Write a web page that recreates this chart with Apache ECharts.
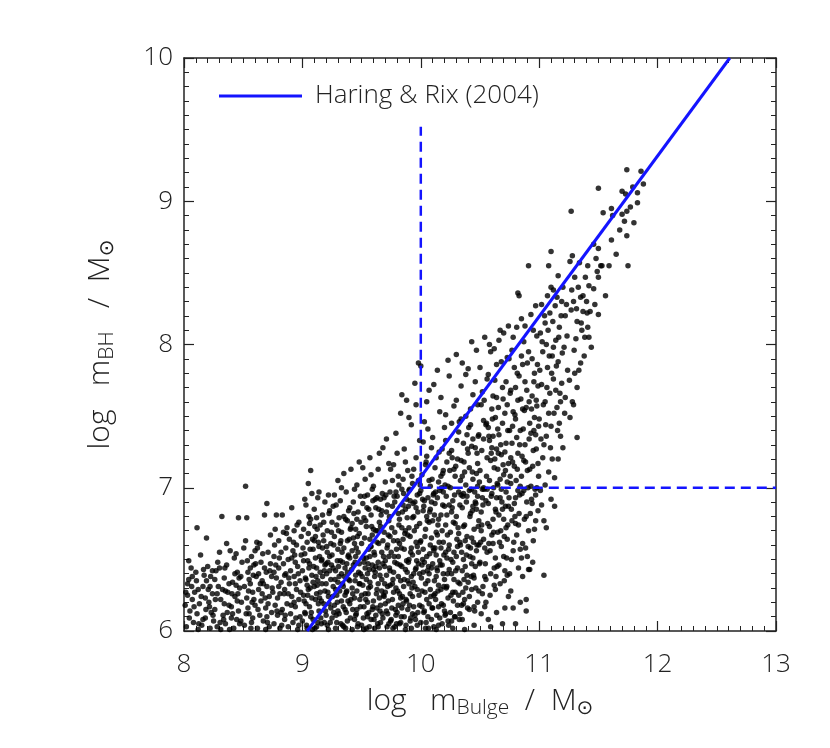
<!DOCTYPE html>
<html>
<head>
<meta charset="utf-8">
<script src="https://cdn.jsdelivr.net/npm/echarts@6/dist/echarts.min.js"></script>
</head>
<body style="margin:0;background:#fff">
<div id="main" style="width:830px;height:748px;"></div>
<script type="text/javascript">
// log m_Bulge / log m_BH pairs, grouped by x strip
var ptsLeft = [
[8.02,6.03],[8.05,6.14],[8.03,6.33],[8.04,6.36],[8.08,6.06],[8.11,6.12],[8.07,6.22],[8.12,6.29],[8.15,6.04],[8.13,6.19],[8.10,6.41],[8.11,6.72],[8.16,6.31],[8.18,6.09],[8.19,6.65],[8.06,6.44],[8.21,6.20],[8.17,6.39],[8.22,6.02],[8.24,6.26],[8.20,6.45],[8.14,6.53],[8.23,6.13],[8.09,6.27],[8.01,6.18],[8.04,6.49],[8.16,6.08],[8.19,6.35],[8.24,6.42],[8.12,6.01],[8.07,6.38],[8.22,6.31],[8.03,6.25],[8.18,6.23],[8.25,6.07],
[8.26,6.15],[8.27,6.42],[8.28,6.03],[8.29,6.31],[8.30,6.55],[8.31,6.22],[8.32,6.80],[8.33,6.11],[8.34,6.37],[8.35,6.05],[8.36,6.46],[8.37,6.27],[8.38,6.18],[8.39,6.56],[8.40,6.09],[8.41,6.34],[8.42,6.02],[8.43,6.24],[8.44,6.54],[8.45,6.41],[8.46,6.14],[8.46,6.79],[8.47,6.30],[8.48,6.07],[8.49,6.48],[8.26,6.36],[8.28,6.26],[8.31,6.01],[8.34,6.19],[8.36,6.61],[8.38,6.33],[8.41,6.12],[8.43,6.40],[8.45,6.21],[8.47,6.05],[8.48,6.38],[8.30,6.44],[8.35,6.28],[8.40,6.17],[8.44,6.32],
[8.51,6.04],[8.52,6.63],[8.52,7.01],[8.53,6.23],[8.53,6.79],[8.54,6.41],[8.55,6.12],[8.56,6.33],[8.57,6.52],[8.57,6.06],[8.58,6.27],[8.59,6.46],[8.60,6.18],[8.61,6.38],[8.62,6.02],[8.62,6.58],[8.63,6.29],[8.64,6.11],[8.65,6.48],[8.65,6.21],[8.66,6.35],[8.67,6.07],[8.68,6.81],[8.68,6.44],[8.69,6.16],[8.70,6.89],[8.70,6.31],[8.71,6.55],[8.72,6.03],[8.72,6.24],[8.73,6.67],[8.74,6.38],[8.74,6.13],[8.51,6.31],[8.54,6.16],[8.56,6.44],[8.58,6.09],[8.60,6.56],[8.63,6.40],[8.66,6.26],[8.69,6.01],[8.71,6.19],[8.73,6.47],[8.55,6.36],[8.59,6.22],[8.64,6.61],[8.67,6.33],[8.70,6.10],
[8.75,6.27],[8.76,6.05],[8.76,6.52],[8.77,6.71],[8.77,6.18],[8.78,6.37],[8.78,6.81],[8.79,6.11],[8.80,6.44],[8.80,6.63],[8.81,6.26],[8.81,6.02],[8.82,6.55],[8.82,6.34],[8.83,6.81],[8.83,6.15],[8.84,6.47],[8.84,6.69],[8.85,6.08],[8.85,6.29],[8.86,6.58],[8.86,6.40],[8.87,6.72],[8.87,6.19],[8.88,6.03],[8.88,6.50],[8.89,6.33],[8.89,6.64],[8.90,6.12],[8.90,6.42],[8.91,6.86],[8.91,6.24],[8.92,6.56],[8.92,6.06],[8.93,6.38],[8.93,6.70],[8.94,6.17],[8.94,6.48],[8.95,6.29],[8.95,6.60],[8.96,6.01],[8.96,6.45],[8.97,6.22],[8.97,6.76],[8.98,6.35],[8.98,6.10],[8.99,6.53],[8.99,6.66],[8.76,6.41],[8.79,6.23],[8.82,6.13],[8.85,6.39],[8.88,6.26],[8.91,6.51],[8.94,6.33],[8.97,6.04],[8.80,6.31],[8.93,6.20]
];
var ptsMid = [
[9.00,6.07],[9.00,6.42],[9.01,6.71],[9.01,6.25],[9.02,6.54],[9.02,6.13],[9.03,6.36],[9.03,6.88],[9.04,6.02],[9.04,6.62],[9.05,6.29],[9.05,7.03],[9.06,6.47],[9.06,6.17],[9.07,6.78],[9.07,7.12],[9.08,6.39],[9.08,6.96],[9.09,6.08],[9.09,6.57],[9.10,6.31],[9.10,6.85],[9.11,6.22],[9.11,6.66],[9.12,6.44],[9.12,6.03],[9.13,6.93],[9.13,6.35],[9.14,6.14],[9.14,6.59],[9.15,6.74],[9.15,6.27],[9.16,6.49],[9.16,6.05],[9.17,6.81],[9.17,6.38],[9.18,6.19],[9.18,6.63],[9.19,6.46],[9.19,6.90],[9.20,6.11],[9.20,6.33],[9.21,6.70],[9.21,6.55],[9.22,6.24],[9.22,6.01],[9.23,6.42],[9.23,6.84],[9.24,6.16],[9.24,6.61],[9.01,6.49],[9.03,6.19],[9.05,6.68],[9.07,6.10],[9.09,6.34],[9.11,6.51],[9.13,6.06],[9.15,6.41],[9.17,6.58],[9.19,6.28],[9.21,6.04],[9.23,6.52],[9.02,6.92],[9.06,6.75],[9.10,6.63],[9.14,6.97],[9.18,6.76],[9.22,6.95],[9.04,6.32],[9.08,6.23],[9.12,6.26],[9.16,6.21],[9.20,6.47],[9.24,6.36],[9.12,6.79],
[9.25,6.09],[9.25,6.53],[9.26,6.31],[9.26,6.87],[9.27,6.18],[9.27,6.66],[9.28,6.42],[9.28,6.02],[9.29,6.74],[9.29,6.25],[9.30,6.57],[9.30,7.05],[9.31,6.12],[9.31,6.38],[9.32,6.91],[9.32,6.49],[9.33,6.21],[9.33,6.69],[9.34,6.04],[9.34,6.33],[9.35,6.80],[9.35,6.58],[9.36,6.15],[9.36,6.44],[9.37,6.97],[9.37,6.27],[9.38,6.63],[9.38,6.07],[9.39,6.36],[9.39,6.84],[9.40,6.51],[9.40,6.19],[9.41,7.13],[9.41,6.72],[9.42,6.30],[9.42,6.01],[9.43,6.46],[9.43,6.90],[9.44,6.23],[9.44,6.61],[9.45,6.11],[9.45,6.39],[9.46,6.78],[9.46,7.02],[9.47,6.55],[9.47,6.05],[9.48,6.33],[9.48,6.68],[9.49,6.17],[9.49,6.94],[9.26,6.44],[9.28,6.29],[9.30,6.14],[9.32,6.61],[9.34,6.48],[9.36,6.25],[9.38,6.77],[9.40,6.35],[9.42,6.56],[9.44,6.08],[9.46,6.28],[9.48,6.47],[9.27,6.95],[9.31,6.79],[9.35,7.10],[9.39,6.53],[9.43,6.65],[9.47,6.83],[9.29,6.06],[9.33,6.40],[9.37,6.13],[9.41,6.22],[9.45,6.52],[9.49,6.40],[9.25,6.76],[9.30,6.34],[9.35,6.03],[9.40,6.86],[9.45,6.71],[9.48,7.18],[9.33,7.00],[9.38,6.41],[9.42,6.75],[9.46,6.15],[9.44,6.99],
[9.50,6.04],[9.50,6.61],[9.51,6.32],[9.51,6.89],[9.52,6.17],[9.52,6.48],[9.53,7.06],[9.53,6.26],[9.54,6.73],[9.54,6.02],[9.55,6.40],[9.55,6.95],[9.56,6.13],[9.56,6.57],[9.57,7.21],[9.57,6.34],[9.58,6.81],[9.58,6.08],[9.59,6.46],[9.59,6.67],[9.60,6.21],[9.60,7.01],[9.61,6.53],[9.61,6.38],[9.62,6.11],[9.62,6.86],[9.63,6.29],[9.63,6.62],[9.64,7.13],[9.64,6.03],[9.65,6.44],[9.65,6.76],[9.66,6.18],[9.66,6.92],[9.67,6.36],[9.67,6.55],[9.68,7.28],[9.68,6.09],[9.69,6.69],[9.69,6.24],[9.70,6.49],[9.70,7.04],[9.71,6.14],[9.71,6.83],[9.72,6.31],[9.72,6.60],[9.73,7.17],[9.73,6.05],[9.74,6.42],[9.74,6.97],[9.50,6.25],[9.52,6.79],[9.54,6.51],[9.56,6.30],[9.58,6.59],[9.60,6.43],[9.62,6.70],[9.64,6.33],[9.66,6.06],[9.68,6.47],[9.70,6.27],[9.72,6.12],[9.74,6.66],[9.51,7.14],[9.55,6.20],[9.59,6.99],[9.63,6.16],[9.67,6.84],[9.71,6.39],[9.53,6.44],[9.57,6.64],[9.61,6.02],[9.65,6.23],[9.69,6.93],[9.73,6.52],[9.52,6.01],[9.56,6.85],[9.60,6.71],[9.64,6.48],[9.68,6.63],[9.72,6.88],[9.54,6.36],[9.58,7.09],[9.62,6.45],[9.66,6.73],[9.70,6.19],[9.74,6.32],[9.55,6.10],[9.63,6.93],[9.71,7.34],[9.59,6.15],[9.67,6.28],[9.73,6.77],[9.57,6.52],[9.65,7.24],
[9.75,6.08],[9.75,6.55],[9.76,6.87],[9.76,6.22],[9.77,7.16],[9.77,6.41],[9.78,6.03],[9.78,6.69],[9.79,7.38],[9.79,6.30],[9.80,6.94],[9.80,6.13],[9.81,6.52],[9.81,7.08],[9.82,6.26],[9.82,6.78],[9.83,7.52],[9.83,6.06],[9.84,6.45],[9.84,6.99],[9.85,6.19],[9.85,6.64],[9.86,7.27],[9.86,6.36],[9.87,6.01],[9.87,6.85],[9.88,7.61],[9.88,6.49],[9.89,6.15],[9.89,7.12],[9.90,6.72],[9.90,6.33],[9.91,6.91],[9.91,6.07],[9.92,7.44],[9.92,6.58],[9.93,6.24],[9.93,7.03],[9.94,6.80],[9.94,6.40],[9.95,7.73],[9.95,6.11],[9.96,6.62],[9.96,7.21],[9.97,6.29],[9.97,6.95],[9.98,7.87],[9.98,6.47],[9.99,6.18],[9.99,7.33],[9.76,6.33],[9.78,6.90],[9.80,6.47],[9.82,6.05],[9.84,6.72],[9.86,6.57],[9.88,6.21],[9.90,6.98],[9.92,6.38],[9.94,6.17],[9.96,6.86],[9.98,6.55],[9.77,6.63],[9.79,6.11],[9.81,6.82],[9.83,6.35],[9.85,7.06],[9.87,6.43],[9.89,6.67],[9.91,6.26],[9.93,6.53],[9.95,6.90],[9.97,6.04],[9.99,6.75],[9.76,7.05],[9.80,7.24],[9.84,6.16],[9.88,6.92],[9.92,6.02],[9.96,6.44],[9.78,6.48],[9.82,6.61],[9.86,6.10],[9.90,6.50],[9.94,7.13],[9.98,7.05],[9.77,6.27],[9.81,6.38],[9.85,6.88],[9.89,6.35],[9.93,6.79],[9.97,6.59],[9.79,6.97],[9.83,6.23],[9.87,7.18],[9.91,6.66],[9.95,6.31],[9.99,6.40],[9.84,7.65],[9.90,7.49],[9.96,7.58],[9.81,6.18],[9.93,6.12],[9.87,6.70],[9.99,6.96]
];
var ptsCore = [
[10.00,6.06],[10.00,6.63],[10.01,7.09],[10.01,6.28],[10.02,6.84],[10.02,6.41],[10.03,7.46],[10.03,6.14],[10.04,6.71],[10.04,6.02],[10.05,7.22],[10.05,6.52],[10.06,6.35],[10.06,6.93],[10.07,7.68],[10.07,6.19],[10.08,6.60],[10.08,7.01],[10.09,6.44],[10.09,6.08],[10.10,7.35],[10.10,6.77],[10.11,6.25],[10.11,6.56],[10.12,7.14],[10.12,6.89],[10.13,6.01],[10.13,6.38],[10.14,7.82],[10.14,6.67],[10.15,6.17],[10.15,7.04],[10.16,6.49],[10.16,7.53],[10.17,6.81],[10.17,6.29],[10.18,7.27],[10.18,6.05],[10.19,6.62],[10.19,6.97],[10.20,6.36],[10.20,7.42],[10.21,6.12],[10.21,6.74],[10.22,7.18],[10.22,6.51],[10.23,7.89],[10.23,6.23],[10.24,6.88],[10.24,6.43],[10.01,6.46],[10.03,6.91],[10.05,6.22],[10.07,6.76],[10.09,7.28],[10.11,6.03],[10.13,6.69],[10.15,6.32],[10.17,7.08],[10.19,6.18],[10.21,6.55],[10.23,7.01],[10.02,7.32],[10.04,6.33],[10.06,6.10],[10.08,6.85],[10.10,6.47],[10.12,6.26],[10.14,6.93],[10.16,6.09],[10.18,6.70],[10.20,6.87],[10.22,6.31],[10.24,7.24],[10.00,6.98],[10.04,7.16],[10.08,6.29],[10.12,6.58],[10.16,6.98],[10.20,6.14],[10.24,6.60],[10.02,6.57],[10.06,7.41],[10.10,6.16],[10.14,6.42],[10.18,6.46],[10.22,6.81],[10.01,6.17],[10.05,6.80],[10.09,6.65],[10.13,7.21],[10.17,6.58],[10.21,7.33],[10.03,6.48],[10.07,6.40],[10.11,6.96],[10.15,6.78],[10.19,7.12],[10.23,6.07],[10.05,7.60],[10.11,7.72],[10.17,7.63],[10.21,7.51],[10.09,6.90],[10.15,6.04],[10.19,6.40],[10.07,7.05],[10.13,6.53],[10.24,7.78],[10.00,7.85],
[10.25,6.13],[10.25,6.69],[10.26,7.26],[10.26,6.40],[10.27,6.91],[10.27,6.02],[10.28,7.57],[10.28,6.55],[10.29,6.27],[10.29,7.08],[10.30,6.80],[10.30,7.93],[10.31,6.44],[10.31,6.18],[10.32,7.39],[10.32,6.97],[10.33,6.62],[10.33,6.33],[10.34,7.19],[10.34,7.71],[10.35,6.08],[10.35,6.86],[10.36,6.50],[10.36,7.31],[10.37,6.74],[10.37,6.22],[10.38,7.02],[10.38,7.50],[10.39,6.39],[10.39,6.94],[10.40,7.83],[10.40,6.59],[10.41,6.15],[10.41,7.14],[10.42,6.82],[10.42,7.44],[10.43,6.47],[10.43,6.29],[10.44,7.06],[10.44,7.65],[10.45,6.71],[10.45,6.04],[10.46,7.28],[10.46,6.90],[10.47,6.56],[10.47,7.96],[10.48,6.20],[10.48,7.17],[10.49,6.77],[10.49,7.37],[10.25,7.00],[10.27,6.48],[10.29,6.75],[10.31,7.20],[10.33,6.88],[10.35,6.42],[10.37,7.11],[10.39,6.66],[10.41,6.98],[10.43,7.29],[10.45,6.37],[10.47,6.85],[10.49,6.60],[10.26,6.83],[10.28,7.13],[10.30,6.52],[10.32,6.25],[10.34,6.95],[10.36,6.73],[10.38,6.30],[10.40,7.24],[10.42,6.58],[10.44,6.87],[10.46,6.45],[10.48,7.01],[10.26,7.45],[10.30,7.61],[10.34,7.48],[10.38,7.79],[10.42,7.55],[10.46,7.74],[10.28,6.36],[10.32,6.68],[10.36,6.96],[10.40,6.34],[10.44,6.51],[10.48,6.94],[10.27,6.27],[10.31,6.59],[10.35,7.08],[10.39,7.37],[10.43,6.65],[10.47,7.10],[10.29,6.10],[10.33,6.12],[10.37,6.01],[10.41,6.24],[10.45,6.17],[10.49,6.28],[10.35,7.87],[10.43,8.02],[10.26,6.07],[10.44,7.34],[10.36,6.19],[10.48,7.58],
[10.50,6.48],[10.50,7.12],[10.51,6.83],[10.51,7.58],[10.52,6.26],[10.52,6.99],[10.53,7.34],[10.53,6.64],[10.54,8.05],[10.54,6.17],[10.55,6.91],[10.55,7.44],[10.56,6.55],[10.56,7.21],[10.57,6.08],[10.57,7.79],[10.58,6.73],[10.58,7.05],[10.59,6.40],[10.59,7.95],[10.60,6.96],[10.60,7.28],[10.61,6.61],[10.61,7.64],[10.62,6.32],[10.62,7.14],[10.63,6.85],[10.63,7.49],[10.64,6.13],[10.64,7.86],[10.65,6.69],[10.65,7.02],[10.66,7.37],[10.66,6.46],[10.67,8.10],[10.67,6.93],[10.68,7.23],[10.68,6.59],[10.69,7.70],[10.69,6.05],[10.70,6.78],[10.70,7.09],[10.71,6.42],[10.71,7.52],[10.72,6.97],[10.72,7.31],[10.73,6.64],[10.73,7.91],[10.74,6.24],[10.74,7.17],[10.51,6.70],[10.53,7.00],[10.55,6.36],[10.57,6.89],[10.59,7.19],[10.61,6.78],[10.63,6.51],[10.65,7.41],[10.67,7.06],[10.69,6.85],[10.71,7.25],[10.73,7.04],[10.50,7.84],[10.52,7.67],[10.56,7.76],[10.60,7.55],[10.64,7.63],[10.68,7.88],[10.72,7.74],[10.74,8.13],[10.52,6.93],[10.54,6.58],[10.58,7.33],[10.62,6.44],[10.66,6.81],[10.70,6.52],[10.74,6.87],[10.51,6.12],[10.55,6.20],[10.59,6.03],[10.63,6.29],[10.67,6.33],[10.71,6.16],[10.73,6.39],[10.53,7.47],[10.57,7.42],[10.61,7.36],[10.65,7.13],[10.69,7.45],[10.73,7.58],[10.56,6.99],[10.60,6.67],[10.64,6.93],[10.68,6.99],[10.72,6.72],[10.58,8.00],[10.62,7.97],[10.66,8.03],[10.70,8.08],[10.54,6.38],[10.64,7.27],
[10.75,6.40],[10.76,7.03],[10.76,7.68],[10.77,6.77],[10.77,7.31],[10.78,8.05],[10.78,6.56],[10.79,7.15],[10.79,7.84],[10.80,6.93],[10.80,7.48],[10.81,6.67],[10.81,8.12],[10.82,7.24],[10.82,7.61],[10.83,6.82],[10.83,8.34],[10.84,7.40],[10.84,6.57],[10.85,7.92],[10.85,7.08],[10.86,6.61],[10.86,7.55],[10.87,6.98],[10.87,8.02],[10.88,7.30],[10.88,7.74],[10.89,6.80],[10.89,6.22],[10.90,7.12],[10.90,7.87],[10.91,6.70],[10.91,8.55],[10.92,7.45],[10.92,6.43],[10.93,8.21],[10.93,7.01],[10.94,7.64],[10.94,6.89],[10.95,7.26],[10.95,8.10],[10.96,6.71],[10.96,7.80],[10.97,7.37],[10.97,6.95],[10.98,8.06],[10.98,7.57],[10.99,7.17],[10.99,6.84],[10.76,6.28],[10.78,6.16],[10.80,6.05],[10.85,6.51],[10.89,6.14],[10.75,7.40],[10.77,7.96],[10.79,6.89],[10.81,7.35],[10.83,7.78],[10.85,8.18],[10.87,7.19],[10.89,7.56],[10.91,7.95],[10.93,7.38],[10.95,6.63],[10.97,8.27],[10.99,7.71],[10.76,7.21],[10.80,7.70],[10.84,7.01],[10.88,8.13],[10.92,7.13],[10.96,7.49],[10.78,7.53],[10.82,6.98],[10.86,7.86],[10.90,6.52],[10.94,7.90],[10.98,7.00],[10.82,8.36],[10.80,6.75],[10.86,6.38],[10.91,6.43],[10.84,6.20],[10.97,6.77]
];
var ptsRidge = [
[11.00,7.48],[11.01,8.08],[11.01,6.98],[11.02,7.72],[11.02,8.28],[11.03,7.21],[11.03,7.95],[11.04,6.77],[11.04,6.39],[11.05,7.60],[11.05,8.15],[11.06,6.72],[11.06,7.36],[11.07,7.84],[11.07,8.34],[11.08,7.11],[11.08,8.55],[11.09,7.66],[11.09,8.22],[11.10,7.43],[11.10,8.40],[11.11,7.92],[11.11,7.20],[11.12,7.76],[11.12,8.38],[11.13,7.07],[11.13,6.87],[11.14,8.03],[11.15,7.56],[11.15,8.33],[11.16,7.20],[11.16,7.88],[11.17,8.12],[11.18,7.36],[11.18,7.60],[11.19,7.73],[11.20,8.40],[11.20,7.28],[11.21,7.98],[11.22,8.20],[11.23,8.28],[11.24,7.82],[11.04,7.30],[11.06,8.00],[11.08,7.52],[11.10,6.92],[11.12,7.98],[11.14,7.68],[11.17,7.45],[11.19,8.30],[11.22,7.63],[11.10,8.65],[11.02,6.88],[11.05,7.02],[11.16,8.48],
[11.26,7.49],[11.26,8.58],[11.27,8.93],[11.27,8.24],[11.28,7.60],[11.28,8.62],[11.29,8.30],[11.29,7.58],[11.30,7.80],[11.31,8.04],[11.32,8.16],[11.32,7.35],[11.32,7.70],[11.33,8.40],[11.34,8.57],[11.35,8.33],[11.36,8.10],[11.37,8.23],[11.37,8.34],[11.38,7.92],[11.40,8.30],[11.41,8.55],[11.41,8.12],[11.42,8.41],[11.42,8.05],[11.43,8.23],[11.44,7.98],[11.46,8.39],[11.46,8.70],[11.47,8.28],[11.48,8.60],[11.49,8.51],[11.30,8.47],[11.35,7.87],[11.39,8.47],
[11.50,9.09],[11.50,8.67],[11.50,8.47],[11.50,8.21],[11.52,8.55],[11.53,8.55],[11.54,8.92],[11.56,8.34],[11.59,8.55],[11.61,8.95],[11.61,8.73],[11.62,8.90],[11.65,8.63],[11.68,8.80],[11.70,9.07],[11.70,8.91],[11.72,8.86],[11.74,8.76],[11.73,9.05],
[11.74,9.22],[11.75,8.55],[11.77,8.96],[11.79,9.10],[11.83,9.06],[11.83,8.99],[11.86,9.21],[11.80,8.85],[11.88,9.12],[11.74,8.93]
];
// extra points in the crowded part of the cloud
var ptsFill = [
[8.015,6.27],[8.045,6.09],[8.065,6.31],[8.085,6.17],[8.105,6.35],[8.125,6.05],[8.145,6.24],[8.165,6.43],[8.185,6.15],[8.205,6.29],[8.225,6.38],[8.245,6.11],[8.265,6.22],[8.285,6.48],[8.305,6.06],[8.325,6.29],[8.345,6.44],[8.365,6.13],[8.385,6.01],[8.405,6.26],[8.425,6.51],[8.445,6.08],[8.465,6.37],[8.485,6.20],[8.505,6.58],[8.525,6.12],[8.545,6.28],[8.565,6.02],[8.585,6.39],[8.605,6.47],[8.625,6.15],[8.645,6.33],[8.665,6.54],[8.685,6.23],[8.705,6.06],[8.725,6.42],[8.745,6.30],[8.765,6.60],[8.785,6.14],[8.805,6.51],[8.825,6.04],[8.845,6.26],[8.865,6.68],[8.885,6.37],[8.905,6.18],[8.925,6.62],[8.945,6.09],[8.965,6.40],[8.985,6.27],[8.535,6.49],[8.615,6.62],[8.695,6.41],[8.775,6.46],[8.855,6.11],[8.935,6.53],[8.215,6.17],[8.335,6.08],[8.455,6.26],[8.575,6.20],[8.955,6.74],
[9.005,6.58],[9.015,6.21],[9.025,6.37],[9.035,6.04],[9.045,6.49],[9.055,6.80],[9.065,6.30],[9.075,6.13],[9.085,6.64],[9.095,6.45],[9.105,6.02],[9.115,6.38],[9.125,6.71],[9.135,6.19],[9.145,6.52],[9.155,6.09],[9.165,6.33],[9.175,6.67],[9.185,6.42],[9.195,6.14],[9.205,6.59],[9.215,6.27],[9.225,6.82],[9.235,6.06],[9.245,6.46],[9.255,6.24],[9.265,6.60],[9.275,6.36],[9.285,6.11],[9.295,6.49],[9.305,6.70],[9.315,6.28],[9.325,6.05],[9.335,6.55],[9.345,6.17],[9.355,6.38],[9.365,6.78],[9.375,6.47],[9.385,6.21],[9.395,6.64],[9.405,6.09],[9.415,6.43],[9.425,6.26],[9.435,6.82],[9.445,6.35],[9.455,6.58],[9.465,6.03],[9.475,6.41],[9.485,6.22],[9.495,6.76],[9.025,6.12],[9.045,6.25],[9.065,6.57],[9.085,6.01],[9.105,6.73],[9.125,6.32],[9.145,6.23],[9.165,6.50],[9.185,6.06],[9.205,6.40],[9.225,6.19],[9.245,6.69],[9.265,6.13],[9.285,6.88],[9.305,6.45],[9.325,6.63],[9.345,6.31],[9.365,6.02],[9.385,6.52],[9.405,6.71],[9.425,6.15],[9.445,6.48],[9.465,6.66],[9.485,6.33],[9.055,6.44],[9.135,6.62],[9.215,6.48],[9.295,6.20],[9.375,6.28],[9.455,6.12],
[9.505,6.38],[9.515,6.09],[9.525,6.65],[9.535,6.22],[9.545,6.86],[9.555,6.47],[9.565,6.03],[9.575,6.31],[9.585,6.73],[9.595,6.17],[9.605,6.55],[9.615,6.92],[9.625,6.26],[9.635,6.05],[9.645,6.61],[9.655,6.39],[9.665,6.81],[9.675,6.12],[9.685,6.52],[9.695,6.33],[9.705,6.95],[9.715,6.58],[9.725,6.21],[9.735,6.44],[9.745,6.07],[9.755,6.72],[9.765,6.36],[9.775,6.94],[9.785,6.15],[9.795,6.57],[9.805,6.28],[9.815,7.02],[9.825,6.46],[9.835,6.10],[9.845,6.83],[9.855,6.31],[9.865,6.68],[9.875,6.04],[9.885,6.41],[9.895,6.87],[9.905,6.18],[9.915,6.55],[9.925,7.08],[9.935,6.34],[9.945,6.70],[9.955,6.08],[9.965,6.49],[9.975,6.83],[9.985,6.25],[9.995,6.62],[9.515,6.51],[9.535,6.77],[9.555,6.26],[9.575,6.59],[9.595,6.91],[9.615,6.41],[9.635,6.70],[9.655,6.14],[9.675,6.96],[9.695,6.45],[9.715,6.03],[9.735,6.80],[9.755,6.16],[9.775,6.52],[9.795,6.05],[9.815,6.74],[9.835,6.58],[9.855,6.96],[9.875,6.22],[9.895,6.48],[9.915,6.09],[9.935,6.89],[9.955,6.43],[9.975,6.13],[9.995,7.02],[9.525,6.94],[9.565,6.43],[9.605,6.08],[9.645,6.85],[9.685,6.25],[9.725,6.67],[9.765,6.02],[9.805,6.63],[9.845,6.24],[9.885,6.79],[9.925,6.30],[9.965,6.73],[9.545,6.12],[9.745,7.13],[9.905,6.99],
[10.005,6.37],[10.015,6.92],[10.025,6.13],[10.035,6.66],[10.045,7.18],[10.055,6.42],[10.065,6.02],[10.075,6.83],[10.085,6.24],[10.095,7.06],[10.105,6.58],[10.115,6.35],[10.125,6.97],[10.135,6.11],[10.145,6.74],[10.155,7.25],[10.165,6.46],[10.175,6.19],[10.185,6.88],[10.195,6.53],[10.205,7.02],[10.215,6.30],[10.225,6.67],[10.235,6.04],[10.245,7.12],[10.255,6.50],[10.265,6.86],[10.275,6.21],[10.285,6.95],[10.295,6.42],[10.305,7.33],[10.315,6.72],[10.325,6.08],[10.335,7.05],[10.345,6.55],[10.355,6.27],[10.365,7.18],[10.375,6.63],[10.385,6.90],[10.395,6.16],[10.405,7.42],[10.415,6.80],[10.425,6.38],[10.435,7.11],[10.445,6.62],[10.455,6.97],[10.465,6.30],[10.475,7.24],[10.485,6.73],[10.495,6.47],[10.015,6.50],[10.035,6.27],[10.055,6.77],[10.075,6.54],[10.095,6.16],[10.115,6.81],[10.135,6.44],[10.155,6.62],[10.175,7.00],[10.195,6.31],[10.215,6.94],[10.235,6.57],[10.255,6.25],[10.275,6.76],[10.295,7.15],[10.315,6.34],[10.335,6.60],[10.355,6.94],[10.375,6.45],[10.395,7.27],[10.415,6.52],[10.435,6.84],[10.455,6.14],[10.475,6.60],[10.495,7.04],[10.025,6.87],[10.065,6.45],[10.105,6.95],[10.145,6.28],[10.185,7.10],[10.225,6.40],[10.265,7.21],[10.305,6.64],[10.345,6.18],[10.385,6.53],[10.425,6.99],[10.465,6.89],[10.045,6.06],[10.125,6.22],[10.205,6.11],[10.285,6.10],[10.365,6.36],[10.445,6.39],[10.325,7.46],[10.485,7.36],
[10.505,6.62],[10.515,7.26],[10.525,6.88],[10.535,7.61],[10.545,6.47],[10.555,7.08],[10.565,6.75],[10.575,7.36],[10.585,6.56],[10.595,6.94],[10.605,7.48],[10.615,6.69],[10.625,7.20],[10.635,6.38],[10.645,7.03],[10.655,7.56],[10.665,6.62],[10.675,7.30],[10.685,6.90],[10.695,7.62],[10.705,6.66],[10.715,7.12],[10.725,6.51],[10.735,7.40],[10.745,6.93],[10.755,7.66],[10.765,6.85],[10.775,7.18],[10.785,6.62],[10.795,7.51],[10.805,7.05],[10.815,7.80],[10.825,6.74],[10.835,7.30],[10.845,7.62],[10.855,6.96],[10.865,7.41],[10.875,6.78],[10.885,7.18],[10.895,7.68],[10.905,7.00],[10.915,7.34],[10.925,6.82],[10.935,7.55],[10.945,7.15],[10.955,7.74],[10.965,6.99],[10.975,7.27],[10.985,7.86],[10.995,7.43],[10.515,6.74],[10.535,6.99],[10.555,7.45],[10.575,6.61],[10.595,7.24],[10.615,7.00],[10.635,6.83],[10.655,7.24],[10.675,6.70],[10.695,7.16],[10.715,6.87],[10.735,6.74],[10.755,7.08],[10.775,7.43],[10.795,6.80],[10.815,7.13],[10.835,6.95],[10.855,7.22],[10.875,7.54],[10.895,6.90],[10.915,7.60],[10.935,6.92],[10.955,7.40],[10.975,7.61],[10.995,7.08],[10.525,6.31],[10.585,6.25],[10.645,6.45],[10.705,6.35],[10.765,6.50],[10.825,6.44],[10.885,6.58],[10.945,6.48],[10.625,7.75],[10.745,7.90],
[11.005,7.82],[11.015,7.34],[11.025,8.02],[11.035,7.58],[11.045,8.20],[11.055,7.44],[11.065,7.70],[11.075,8.10],[11.085,7.92],[11.095,7.28],[11.105,7.80],[11.115,8.16],[11.125,7.52],[11.135,8.27],[11.145,7.85],[11.155,7.40],[11.165,8.05],[11.175,7.66],[11.185,8.20],[11.195,7.94],[11.215,7.52],[11.235,8.06],[11.255,7.75],[11.275,8.38],[11.295,7.96],[11.315,8.25],[11.335,7.82],[11.355,8.15],[11.385,8.05],[11.405,8.22]
];

// Haring & Rix (2004) relation, end points on the frame
var hrX = [9.04, 12.61];
var hrY = [6.0, 10.0];
// dashed guides
var vGuideX = [10, 10];
var vGuideY = [7, 9.52];
var hGuideX = [10, 13];
var hGuideY = [7, 7];

var xTicks = [8, 9, 10, 11, 12, 13];
var yTicks = [6, 7, 8, 9, 10];

var allPts = ptsLeft.concat(ptsMid, ptsCore, ptsRidge, ptsFill);
function pairs(xs, ys) {
    return xs.map(function (x, i) { return [x, ys[i]]; });
}

var FONT = 'Open Sans';
var INK = '#222';
var frame = { show: true, lineStyle: { color: INK, width: 1.5 } };
var tick = { show: true, inside: true, length: 10, lineStyle: { color: INK, width: 1.2 } };
var minor = { show: true, splitNumber: 10, length: 5, lineStyle: { color: INK, width: 1 } };
var titleRich = {
    n: { fontFamily: FONT, fontWeight: 300, fontSize: 30, lineHeight: 36, color: INK },
    s: { fontFamily: FONT, fontWeight: 300, fontSize: 21, lineHeight: 19, verticalAlign: 'bottom', color: INK },
    o: { fontFamily: 'DejaVu Sans', fontSize: 20, lineHeight: 26, verticalAlign: 'bottom', color: INK }
};

var chart = echarts.init(document.getElementById('main'));
var option = {
    animation: false,
    backgroundColor: '#fff',
    grid: { left: 184, top: 58, width: 592, height: 573 },
    legend: {
        left: 219, top: 83, padding: 0,
        icon: 'rect', itemWidth: 83, itemHeight: 3,
        data: ['Haring & Rix (2004)'],
        textStyle: { fontFamily: FONT, fontWeight: 300, fontSize: 26, color: INK, padding: [0, 0, 0, 8] }
    },
    xAxis: [{
        type: 'value', min: xTicks[0], max: xTicks[xTicks.length - 1], interval: 1,
        position: 'bottom',
        axisLine: frame, axisTick: tick, minorTick: minor, splitLine: { show: false },
        axisLabel: { margin: 21, fontFamily: FONT, fontWeight: 300, fontSize: 26, color: INK },
        name: '{n|log   m}{s|Bulge}{n|  /  M}{o|⊙}',
        nameLocation: 'middle', nameGap: 52,
        nameTextStyle: { fontFamily: FONT, color: INK, rich: titleRich }
    }, {
        type: 'value', min: xTicks[0], max: xTicks[xTicks.length - 1], interval: 1,
        position: 'top',
        axisLine: frame, axisTick: tick, minorTick: minor, splitLine: { show: false },
        axisLabel: { show: false }
    }],
    yAxis: [{
        type: 'value', min: yTicks[0], max: yTicks[yTicks.length - 1], interval: 1,
        position: 'left',
        axisLine: frame, axisTick: tick, minorTick: minor, splitLine: { show: false },
        axisLabel: { margin: 11, fontFamily: FONT, fontWeight: 300, fontSize: 26, color: INK },
        name: '{n|log   m}{s|BH}{n|   /  M}{o|⊙}',
        nameLocation: 'middle', nameGap: 66,
        nameTextStyle: { fontFamily: FONT, color: INK, rich: titleRich }
    }, {
        type: 'value', min: yTicks[0], max: yTicks[yTicks.length - 1], interval: 1,
        position: 'right',
        axisLine: frame, axisTick: tick, minorTick: minor, splitLine: { show: false },
        axisLabel: { show: false }
    }],
    series: [{
        name: 'galaxies',
        type: 'scatter',
        data: allPts,
        symbol: 'circle',
        symbolSize: 5.5,
        itemStyle: { color: '#000' },
        z: 2
    }, {
        name: 'Haring & Rix (2004)',
        type: 'line',
        data: pairs(hrX, hrY),
        showSymbol: false,
        lineStyle: { color: '#1414ff', width: 3 },
        itemStyle: { color: '#1414ff' },
        z: 5
    }, {
        name: 'vguide',
        type: 'line',
        data: pairs(vGuideX, vGuideY),
        showSymbol: false,
        lineStyle: { color: '#1414ff', width: 2.5, type: [10, 6] },
        z: 4
    }, {
        name: 'hguide',
        type: 'line',
        data: pairs(hGuideX, hGuideY),
        showSymbol: false,
        lineStyle: { color: '#1414ff', width: 2.5, type: [10, 6] },
        z: 4
    }]
};
chart.setOption(option);
</script>
</body>
</html>
